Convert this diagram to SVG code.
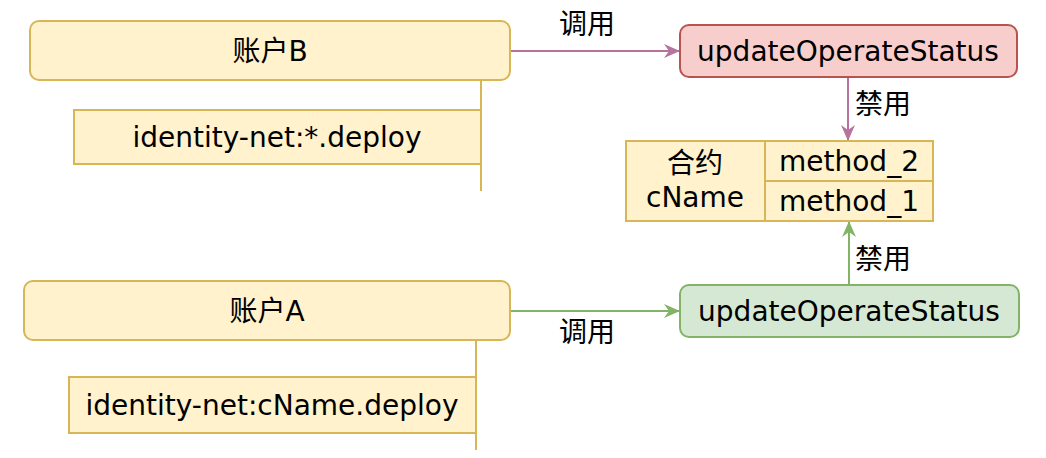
<svg xmlns="http://www.w3.org/2000/svg" width="1046" height="458" viewBox="0 0 1046 458">
<style>
text{font-family:"DejaVu Sans","Noto Sans CJK SC",sans-serif;font-size:28px;fill:#000;text-anchor:middle;dominant-baseline:central}
.y{fill:#fff2cc;stroke:#d6b656;stroke-width:2}
.r{fill:#f8cecc;stroke:#b85450;stroke-width:2}
.g{fill:#d5e8d4;stroke:#82b366;stroke-width:2}
.ln{fill:none;stroke:#d6b656;stroke-width:2}
.pe{fill:none;stroke:#b5739d;stroke-width:2}
.ge{fill:none;stroke:#82b366;stroke-width:2}
</style>
<defs>
<marker id="ap" viewBox="0 0 16 14" refX="15" refY="7" markerWidth="16" markerHeight="14" markerUnits="userSpaceOnUse" orient="auto"><path d="M0,0 L16,7 L0,14 L5,7 Z" fill="#b5739d"/></marker>
<marker id="ag" viewBox="0 0 16 14" refX="15" refY="7" markerWidth="16" markerHeight="14" markerUnits="userSpaceOnUse" orient="auto"><path d="M0,0 L16,7 L0,14 L5,7 Z" fill="#82b366"/></marker>
</defs>
<g id="connectors">
<path class="ln" d="M481,80 V191"/>
<path class="ln" d="M476,340 V450"/>
<path class="pe" d="M510,51 H679" marker-end="url(#ap)"/>
<path class="pe" d="M848,77 V140" marker-end="url(#ap)"/>
<path class="ge" d="M510,311 H679" marker-end="url(#ag)"/>
<path class="ge" d="M849,285 V222" marker-end="url(#ag)"/>
<text x="587" y="24">调用</text>
<text x="883" y="104">禁用</text>
<text x="883" y="259">禁用</text>
<text x="587" y="332">调用</text>
</g>
<g id="accountB">
<rect class="y" x="30" y="21" width="480" height="59" rx="9"/>
<text x="270" y="51">账户B</text>
</g>
<g id="identityB">
<rect class="y" x="74" y="110" width="407" height="54"/>
<text x="277" y="137">identity-net:*.deploy</text>
</g>
<g id="opRed">
<rect class="r" x="680" y="25" width="337" height="52" rx="9"/>
<text x="848" y="51">updateOperateStatus</text>
</g>
<g id="contract">
<rect class="y" x="626" y="141" width="307" height="80"/>
<path class="ln" d="M765,141 V221 M765,181 H933"/>
<text x="695" y="163">合约</text>
<text x="695" y="197">cName</text>
<text x="849" y="161">method_2</text>
<text x="849" y="201">method_1</text>
</g>
<g id="accountA">
<rect class="y" x="24" y="281" width="486" height="59" rx="9"/>
<text x="267" y="311">账户A</text>
</g>
<g id="opGreen">
<rect class="g" x="680" y="285" width="339" height="52" rx="9"/>
<text x="849" y="311">updateOperateStatus</text>
</g>
<g id="identityA">
<rect class="y" x="69" y="377" width="407" height="56"/>
<text x="272" y="405">identity-net:cName.deploy</text>
</g>
</svg>
